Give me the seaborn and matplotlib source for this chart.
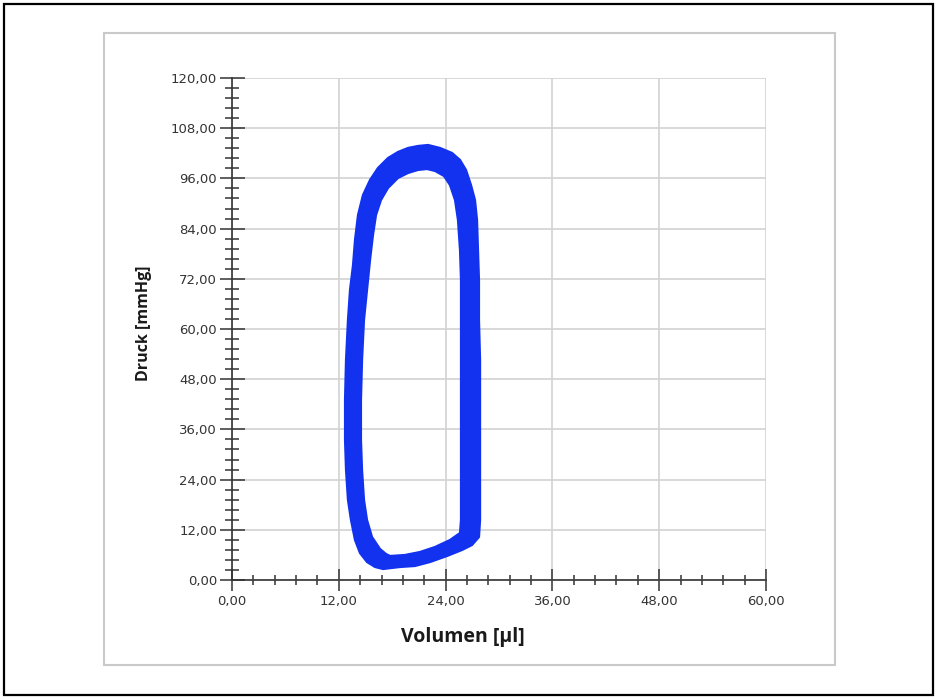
import numpy as np
import pandas as pd
import matplotlib
matplotlib.use("Agg")
import matplotlib.pyplot as plt
from matplotlib.ticker import MultipleLocator
from matplotlib.patches import Rectangle
import seaborn as sns

# ---------------- data ----------------
x_ticks = [0, 12, 24, 36, 48, 60]
x_tick_labels = ["0,00", "12,00", "24,00", "36,00", "48,00", "60,00"]
y_ticks = [0, 12, 24, 36, 48, 60, 72, 84, 96, 108, 120]
y_tick_labels = ["0,00", "12,00", "24,00", "36,00", "48,00", "60,00",
                 "72,00", "84,00", "96,00", "108,00", "120,00"]
x_label = "Volumen [µl]"
y_label = "Druck [mmHg]"

# outer edge of the band of overlapping PV loops (volume µl, pressure mmHg)
outer_volume = [16.97, 18.88, 20.56, 22.25, 24.16, 25.84, 26.97, 27.75, 27.87, 27.87,
                27.87, 27.87, 27.87, 27.75, 27.75, 27.64, 27.53, 27.30, 26.85, 26.29,
                25.62, 24.72, 23.37, 22.02, 20.90, 19.78, 18.65, 17.53, 16.40, 15.51,
                14.72, 14.16, 13.82, 13.60, 13.26, 13.03, 12.81, 12.70, 12.70, 12.81,
                13.03, 13.37, 13.82, 14.38, 15.17, 16.07]
outer_pressure = [2.63, 3.11, 3.35, 4.30, 5.74, 7.17, 8.37, 10.28, 14.34, 23.91,
                  33.47, 43.03, 52.59, 62.16, 71.72, 78.89, 86.06, 90.84, 94.43, 98.02,
                  100.41, 102.08, 103.28, 103.99, 103.75, 103.28, 102.32, 100.88, 98.49, 95.63,
                  92.04, 87.26, 81.28, 75.31, 69.33, 62.16, 52.59, 43.03, 33.47, 26.30,
                  19.13, 14.34, 9.56, 6.45, 4.30, 3.11]

# inner edge of the band
inner_volume = [17.75, 19.44, 21.12, 22.81, 24.49, 25.62, 25.73, 25.73, 25.73, 25.73,
                25.73, 25.73, 25.73, 25.62, 25.39, 25.06, 24.49, 23.82, 22.81, 21.91,
                20.90, 19.78, 18.65, 17.53, 16.74, 16.18, 15.84, 15.51, 15.17, 14.83,
                14.61, 14.49, 14.49, 14.61, 14.83, 15.17, 15.73, 16.63, 17.30]
inner_pressure = [5.74, 5.98, 6.69, 7.89, 9.56, 11.24, 14.34, 23.91, 33.47, 43.03,
                  52.59, 62.16, 71.72, 78.89, 86.06, 90.84, 94.43, 96.58, 97.78, 98.25,
                  98.02, 97.30, 96.10, 93.71, 90.84, 87.26, 82.48, 76.50, 69.33, 62.16,
                  52.59, 43.03, 33.47, 26.30, 19.13, 14.34, 10.28, 7.41, 6.22]

loop_color = "#1232f0"

# ---------------- style ----------------
sns.set_style("white")
plt.rcParams["font.family"] = ["DejaVu Sans"]

W, H = 937, 699
fig = plt.figure(figsize=(W / 100, H / 100), dpi=100)
fig.patch.set_facecolor("white")

# outer black frame and inner grey frame
fig.patches.append(Rectangle((4 / W, 1 - 695 / H), (933 - 4) / W, (695 - 4) / H,
                             transform=fig.transFigure, fill=False,
                             edgecolor="black", linewidth=1.6))
fig.patches.append(Rectangle((104 / W, 1 - 665 / H), (835 - 104) / W, (665 - 33) / H,
                             transform=fig.transFigure, fill=False,
                             edgecolor="#c9c9c9", linewidth=1.5))

ax_l, ax_r, ax_t, ax_b = 232, 766, 78, 580
ax = fig.add_axes([ax_l / W, 1 - ax_b / H, (ax_r - ax_l) / W, (ax_b - ax_t) / H])
ax.set_facecolor("white")

# ---------------- loops ----------------
ov = outer_volume + outer_volume[:1]
op = outer_pressure + outer_pressure[:1]
iv = inner_volume + inner_volume[:1]
ip = inner_pressure + inner_pressure[:1]

# filled band between outer and inner edge (inner traversed in reverse -> hole)
ax.fill(ov + iv[::-1], op + ip[::-1], color=loop_color, linewidth=0, zorder=3)

df = pd.concat([
    pd.DataFrame({"Volumen": ov, "Druck": op, "Zyklus": "outer"}),
    pd.DataFrame({"Volumen": iv, "Druck": ip, "Zyklus": "inner"}),
], ignore_index=True)
sns.lineplot(data=df, x="Volumen", y="Druck", units="Zyklus", estimator=None,
             sort=False, color=loop_color, linewidth=1.6, ax=ax, zorder=4)

# ---------------- axes ----------------
ax.set_xlim(0, 60)
ax.set_ylim(0, 120)
ax.set_xticks(x_ticks)
ax.set_xticklabels(x_tick_labels)
ax.set_yticks(y_ticks)
ax.set_yticklabels(y_tick_labels)
ax.xaxis.set_minor_locator(MultipleLocator(2.4))
ax.yaxis.set_minor_locator(MultipleLocator(2.4))

ax.grid(True, which="major", color="#d2d2d2", linewidth=1.2, zorder=0)
ax.grid(False, which="minor")
ax.set_axisbelow(True)
for s in ["top", "right"]:
    ax.spines[s].set_visible(False)
for s in ["left", "bottom"]:
    ax.spines[s].set_color("#333333")
    ax.spines[s].set_linewidth(1.2)

ax.tick_params(which="both", bottom=True, left=True, top=False, right=False)
ax.tick_params(axis="y", which="major", direction="inout", length=18, width=1.1,
               color="#333333", labelsize=9.5, labelcolor="#333333", pad=1.8)
ax.tick_params(axis="y", which="minor", direction="inout", length=9.5, width=1.1,
               color="#333333")
ax.tick_params(axis="x", which="major", direction="inout", length=16, width=1.1,
               color="#333333", labelsize=9.5, labelcolor="#333333", pad=3)
ax.tick_params(axis="x", which="minor", direction="inout", length=7.5, width=1.1,
               color="#333333")

ax.set_xlabel("")
ax.set_ylabel("")
fig.text(463 / W, 1 - 637 / H, x_label, ha="center", va="center",
         fontsize=14, fontweight="bold", family=["Open Sans", "DejaVu Sans"],
         color="#1a1a1a")
fig.text(144 / W, 1 - 323 / H, y_label, ha="center", va="center", rotation=90,
         fontsize=11.5, fontweight="bold", family=["Open Sans", "DejaVu Sans"],
         color="#1a1a1a")

fig.savefig("out.png", dpi=100)
